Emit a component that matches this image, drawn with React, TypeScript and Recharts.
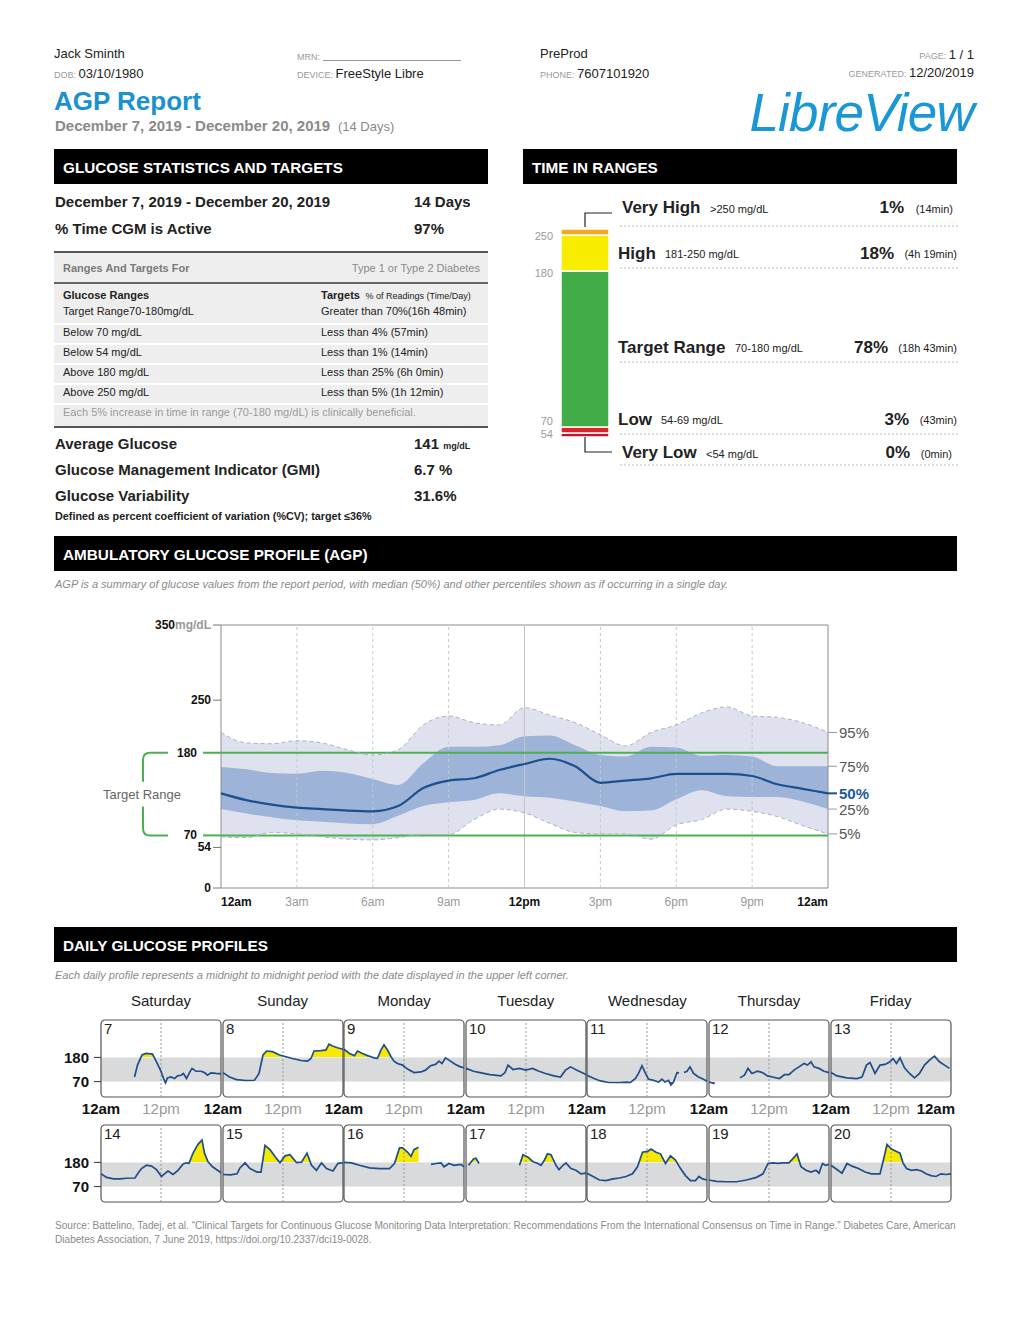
import React from "react";
import {
  ComposedChart,
  BarChart,
  Bar,
  Area,
  Line,
  XAxis,
  YAxis,
  ReferenceLine,
  ReferenceArea,
  LabelList,
} from "recharts";

const FONT = '"Liberation Sans", Arial, Helvetica, sans-serif';

// ---- time in ranges ----
const tirKeys = ["veryLow", "low", "target", "high", "veryHigh"];
const tirPercent = [0, 3, 78, 18, 1];
const tirColors = ["#c4142a", "#d8232a", "#41ad49", "#f8ec00", "#f4a81d"];
const tirTopLabel = ["54", "70", "180", "250", ""];
const tirLabelDy = [1, -6, 2, 1, 0];
const tirMinSize = [-4, 0, 0, 0, 6];

// ---- AGP percentiles, hourly ----
const agpHours = [0, 1, 2, 3, 4, 5, 6, 7, 8, 9, 10, 11, 12, 13, 14, 15, 16, 17, 18, 19, 20, 21, 22, 23, 24];
const p95 = [207, 193, 192, 196, 193, 184, 177, 184, 217, 229, 220, 217, 240, 230, 220, 204, 189, 207, 217, 233, 241, 229, 227, 220, 207];
const p75 = [161, 158, 153, 152, 156, 153, 145, 137, 166, 188, 188, 190, 202, 203, 190, 177, 175, 188, 187, 176, 177, 175, 162, 162, 162];
const p50 = [126, 117, 111, 107, 105, 103, 102, 109, 133, 143, 146, 157, 165, 172, 162, 140, 143, 146, 152, 152, 152, 149, 138, 132, 126];
const p25 = [105, 99, 94, 90, 88, 86, 85, 96, 109, 114, 117, 126, 122, 120, 115, 109, 102, 103, 118, 130, 122, 121, 121, 115, 105];
const p5 = [68, 67, 74, 72, 68, 65, 64, 67, 71, 71, 91, 105, 100, 86, 74, 72, 72, 65, 84, 91, 105, 102, 95, 83, 72];
const agpTicks = [0, 3, 6, 9, 12, 15, 18, 21, 24];
const agpTickLabels = ["12am", "3am", "6am", "9am", "12pm", "3pm", "6pm", "9pm", "12am"];
const agpYTicks = [0, 54, 70, 180, 250, 350];

// ---- daily profiles: [hour, mg/dL] ----
type Pt = [number, number | null];
const d07: Pt[] = [[6.7, 91], [7.3, 145], [8.2, 191], [9, 198], [10.3, 195], [11.1, 160], [12, 117], [12.5, 84], [12.9, 64], [13.3, 87], [14, 91], [14.7, 84], [15.3, 96], [16, 99], [16.5, 107], [17.1, 84], [17.7, 111], [18.2, 130], [19, 117], [20, 117], [20.7, 111], [21.3, 99], [22, 110], [23, 107], [24, 105]];
const d08: Pt[] = [[0, 111], [1.3, 91], [2.7, 79], [4.6, 75], [6.3, 76], [7.2, 107], [8, 191], [8.75, 209], [9.9, 206], [11.3, 191], [12.6, 183], [13.9, 175], [15.6, 166], [16.9, 163], [17.6, 175], [18.2, 209], [19.6, 211], [20.6, 214], [21.2, 240], [21.9, 232], [22.9, 224], [24, 217]];
const d09: Pt[] = [[0, 217], [1.1, 198], [2.1, 188], [2.7, 209], [3.7, 198], [4.7, 188], [5.4, 183], [6, 178], [6.7, 176], [7.4, 214], [8, 237], [8.7, 214], [9.4, 183], [10, 163], [10.7, 152], [11.7, 145], [12.7, 127], [14, 111], [15.4, 114], [16.3, 122], [17.3, 142], [18.3, 148], [19, 163], [19.6, 152], [20.3, 178], [21.3, 163], [22.3, 148], [23.3, 137], [24, 133]];
const d10: Pt[] = [[0, 130], [1.5, 117], [2.8, 111], [4.8, 102], [7, 96], [7.8, 111], [8.4, 145], [9.4, 125], [10.7, 130], [12, 122], [13.3, 130], [14.6, 117], [15.9, 107], [17.6, 96], [18.9, 91], [19.9, 122], [20.9, 137], [22.2, 122], [24, 102]];
const d11: Pt[] = [[0, 99], [1.4, 84], [2.7, 73], [4.4, 66], [6.4, 66], [8, 68], [8.7, 66], [9.7, 84], [10.3, 107], [11, 142], [11.7, 107], [12.3, 81], [13.3, 76], [14.3, 68], [15, 81], [15.6, 68], [16.3, 76], [16.8, 55], [17.3, 68], [18, 111], [18.4, 110], [18.7, null], [19.4, 111], [20, 117], [20.6, 137], [21.3, 107], [22.3, 91], [23.3, 81], [24, 72]];
const d12: Pt[] = [[0, 68], [1.1, 61], [1.3, null], [6.2, 87], [7.1, 99], [7.8, 130], [8.6, 107], [9.7, 117], [10.7, 111], [11.7, 96], [12.7, 91], [14.1, 84], [15.1, 102], [16, 102], [17, 122], [18, 137], [19, 152], [19.7, 145], [20.4, 160], [21, 137], [22, 130], [23, 117], [24, 111]];
const d13: Pt[] = [[0, 111], [1.2, 96], [3.2, 87], [5.2, 84], [6.2, 91], [7.1, 145], [7.8, 157], [8.8, 107], [9.8, 145], [10.8, 148], [11.8, 160], [12.4, 175], [13.1, 152], [13.8, 178], [14.7, 133], [15.7, 107], [16.7, 87], [17.7, 107], [18.7, 145], [19.7, 168], [20.7, 186], [21.7, 160], [22.7, 145], [23.7, 130]];
const d14: Pt[] = [[0, 128], [1.1, 112], [2.5, 105], [3.8, 105], [5.1, 108], [6.8, 109], [7.4, 131], [8.1, 152], [9.1, 167], [10.1, 163], [11.1, 147], [12.1, 116], [12.7, 128], [13.4, 141], [14.4, 125], [15.4, 144], [16.4, 172], [17, 178], [17.6, 176], [18.4, 222], [19.4, 262], [20.2, 282], [20.7, 222], [21.4, 183], [22.3, 160], [23.3, 144], [24, 133]];
const d15: Pt[] = [[0, 125], [1.5, 123], [2.8, 128], [3.4, 155], [4.4, 178], [5.4, 152], [6.8, 136], [7.6, 136], [8.4, 257], [9.4, 238], [10.4, 207], [11.4, 178], [12.4, 210], [13.4, 215], [14.7, 179], [15.7, 181], [16.8, 222], [17.7, 167], [18.7, 144], [19.7, 178], [20.7, 152], [22, 141], [23, 176], [24, 178]];
const d16: Pt[] = [[0, 180], [1.5, 178], [3.1, 167], [5.1, 155], [7.1, 152], [9.1, 152], [10.1, 175], [11.1, 246], [11.7, 246], [12.7, 227], [13.4, 207], [14, 238], [14.9, 249], [15.2, null], [17.4, 171], [18.4, 175], [19.4, 178], [20, 160], [21, 175], [22, 167], [23.4, 171], [24, 160]];
const d17: Pt[] = [[0.5, 167], [0.9, 178], [1.5, 196], [2, 199], [2.6, 175], [2.8, null], [10.7, 167], [11.4, 215], [12.4, 204], [13.4, 183], [14.4, 175], [15, 167], [15.7, 191], [16.3, 219], [17, 215], [18, 167], [18.6, 147], [19.4, 167], [20, 178], [21, 152], [22, 144], [23, 128], [24, 131]];
const d18: Pt[] = [[0, 131], [1.2, 116], [2.5, 100], [3.8, 97], [5.2, 105], [6.5, 109], [7.8, 116], [9.1, 128], [10.1, 160], [11.1, 226], [12.1, 230], [12.8, 241], [13.8, 226], [14.7, 219], [15.7, 175], [16.7, 210], [17.7, 191], [18.7, 152], [19.7, 120], [20.7, 97], [21.7, 97], [22.4, 116], [23.1, 105], [24, 100]];
const d19: Pt[] = [[0, 100], [1.5, 94], [3.5, 92], [5.5, 92], [7.5, 100], [9.5, 112], [10.8, 128], [11.8, 175], [12.8, 178], [13.8, 176], [14.7, 178], [16, 178], [17.1, 205], [17.6, 218], [18.4, 160], [19.4, 144], [20.4, 136], [21.4, 144], [22, 131], [22.7, 175], [23.3, 167], [24, 171]];
const d20: Pt[] = [[0, 167], [0.9, 152], [2.2, 131], [3.2, 175], [4.2, 163], [5.5, 152], [6.8, 136], [8.1, 128], [9.8, 128], [10.4, 183], [11.2, 262], [12.1, 241], [13.1, 230], [13.8, 222], [14.4, 178], [15.1, 152], [16.1, 144], [17.1, 147], [18.1, 141], [19, 128], [20, 120], [21, 116], [22, 128], [23, 125], [24, 128]];
const dailyProfiles = [d07, d08, d09, d10, d11, d12, d13, d14, d15, d16, d17, d18, d19, d20];
const dailyDates = [7, 8, 9, 10, 11, 12, 13, 14, 15, 16, 17, 18, 19, 20];
const weekdays = ["Saturday", "Sunday", "Monday", "Tuesday", "Wednesday", "Thursday", "Friday"];

// ---- statistics table text ----
const rangeNames = ["Below 70 mg/dL", "Below 54 mg/dL", "Above 180 mg/dL", "Above 250 mg/dL"];
const rangeTargets = ["Less than 4% (57min)", "Less than 1% (14min)", "Less than 25% (6h 0min)", "Less than 5% (1h 12min)"];

// layout
const DAY_X0 = 101;
const DAY_STEP = 121.6;
const DAY_W = 120;
const DAY_H = 77;
const DAY_ROW_Y = [1020, 1125];
const DAY_MAX = 350;
const BIG = 15;

type TP = {
  x: number;
  y: number;
  s?: number;
  w?: number;
  c?: string;
  a?: "left" | "right" | "center";
  i?: boolean;
  children: React.ReactNode;
};
const T = ({ x, y, s = 13, w = 400, c = "#222", a = "left", i, children }: TP) => {
  const style: React.CSSProperties = {
    position: "absolute",
    top: y - s * 0.6,
    fontSize: s,
    lineHeight: `${s * 1.2}px`,
    fontWeight: w,
    color: c,
    whiteSpace: "nowrap",
    fontStyle: i ? "italic" : "normal",
  };
  if (a === "right") style.right = 1024 - x;
  else if (a === "center") {
    style.left = x;
    style.transform = "translateX(-50%)";
  } else style.left = x;
  return <div style={style}>{children}</div>;
};

const Small = ({ children }: { children: React.ReactNode }) => (
  <span style={{ fontSize: 9, color: "#999", textTransform: "uppercase" }}>{children}</span>
);

const SectionBar = ({ x, y, w, label }: { x: number; y: number; w: number; label: string }) => (
  <div
    style={{
      position: "absolute",
      left: x,
      top: y,
      width: w,
      height: 35,
      background: "#000",
      color: "#fff",
      fontWeight: 700,
      fontSize: 15.3,
      lineHeight: "37px",
      paddingLeft: 9,
      boxSizing: "border-box",
    }}
  >
    {label}
  </div>
);

const pick = (p: any, k: string) => (p[k] !== undefined ? p[k] : p.viewBox ? p.viewBox[k] : 0);

// ---------- Time in ranges bar ----------
const TirChart = () => {
  const row: any = { name: "tir" };
  tirKeys.forEach((k, i) => (row[k] = tirPercent[i]));
  return (
    <div style={{ position: "absolute", left: 520, top: 226 }}>
      <BarChart width={130} height={215} data={[row]} margin={{ top: 7, right: 0, bottom: 8, left: 0 }}>
        <XAxis dataKey="name" hide />
        <YAxis hide domain={[0, 100]} />
        {tirKeys.map((k, i) => (
          <Bar
            key={k}
            dataKey={k}
            stackId="a"
            barSize={48}
            fill={tirColors[i]}
            stroke="#fff"
            strokeWidth={1.5}
            minPointSize={tirMinSize[i]}
            isAnimationActive={false}
          >
            {tirTopLabel[i] && (
              <LabelList
                dataKey={k}
                content={(p: any) => {
                  const y = pick(p, "y");
                  const h = pick(p, "height");
                  const top = Math.min(y, y + h);
                  return (
                    <text
                      x={pick(p, "x") - 8}
                      y={top + tirLabelDy[i]}
                      textAnchor="end"
                      dominantBaseline="central"
                      fontSize={11}
                      fill="#9a9a9a"
                    >
                      {tirTopLabel[i]}
                    </text>
                  );
                }}
              />
            )}
          </Bar>
        ))}
      </BarChart>
    </div>
  );
};

// ---------- AGP ----------
const AX = 131; // plot left inside the AGP chart
const GREEN = "#4caf50";

const AgpYTick = (props: any) => {
  const { y, payload } = props;
  const v = payload.value;
  if (v === 180 || v === 70) {
    const top = v === 180;
    const s = top ? 1 : -1;
    return (
      <g>
        <text x={AX - 24} y={y} textAnchor="end" dominantBaseline="central" fontSize={12} fontWeight={700} fill="#111">
          {v}
        </text>
        <line x1={AX - 18} x2={AX} y1={y} y2={y} stroke={GREEN} strokeWidth={2} />
        <path
          d={`M ${AX - 53} ${y} L ${AX - 71} ${y} Q ${AX - 78} ${y} ${AX - 78} ${y + 7 * s} L ${AX - 78} ${y + 29 * s}`}
          fill="none"
          stroke={GREEN}
          strokeWidth={2}
        />
        {top && (
          <text x={AX - 79} y={y + 42} textAnchor="middle" dominantBaseline="central" fontSize={13} fill="#666">
            Target Range
          </text>
        )}
      </g>
    );
  }
  return (
    <g>
      <text x={AX - 10} y={y} textAnchor="end" dominantBaseline="central" fontSize={12} fontWeight={700} fill="#111">
        {v}
        {v === 350 && <tspan fill="#999">mg/dL</tspan>}
      </text>
      <line x1={AX - 8} x2={AX} y1={y} y2={y} stroke="#777" strokeWidth={1} />
    </g>
  );
};

const AgpXTick = (props: any) => {
  const { x, y, payload } = props;
  const i = agpTicks.indexOf(payload.value);
  const major = payload.value % 12 === 0;
  const anchor = i === 0 ? "start" : i === agpTicks.length - 1 ? "end" : "middle";
  return (
    <text
      x={x}
      y={y}
      dy="0.8em"
      textAnchor={anchor}
      fontSize={12}
      fontWeight={major ? 700 : 400}
      fill={major ? "#111" : "#999"}
    >
      {agpTickLabels[i]}
    </text>
  );
};

const pctLabel = (text: string, strong: boolean) => (p: any) => {
  if (p.index !== agpHours.length - 1) return null;
  const x = pick(p, "x");
  const y = pick(p, "y");
  return (
    <g>
      <line x1={x} x2={x + 9} y1={y} y2={y} stroke={strong ? "#1c4f8c" : "#999"} strokeWidth={strong ? 2 : 1} />
      <text
        x={x + 11}
        y={y}
        dominantBaseline="central"
        fontSize={15}
        fontWeight={strong ? 700 : 400}
        fill={strong ? "#1d5a9c" : "#555"}
      >
        {text}
      </text>
    </g>
  );
};

const AgpChart = () => {
  const data = agpHours.map((h, i) => ({ h, p5: p5[i], p25: p25[i], p50: p50[i], p75: p75[i], p95: p95[i] }));
  return (
    <div style={{ position: "absolute", left: 90, top: 610 }}>
      <ComposedChart width={800} height={310} data={data} margin={{ top: 15, right: 62, bottom: 0, left: 0 }}>
        <XAxis
          dataKey="h"
          type="number"
          domain={[0, 24]}
          ticks={agpTicks}
          interval={0}
          axisLine={false}
          tickLine={false}
          height={32}
          tick={AgpXTick}
        />
        <YAxis
          type="number"
          domain={[0, 350]}
          ticks={agpYTicks}
          interval={0}
          axisLine={false}
          tickLine={false}
          width={AX}
          tick={AgpYTick}
        />
        <Area
          type="monotone"
          dataKey={(d: any) => [d.p5, d.p95]}
          fill="#dfe2ee"
          fillOpacity={1}
          stroke="none"
          isAnimationActive={false}
        />
        <Area
          type="monotone"
          dataKey={(d: any) => [d.p25, d.p75]}
          fill="#9db3d8"
          fillOpacity={1}
          stroke="none"
          isAnimationActive={false}
        />
        {agpTicks.slice(1, -1).map((t) => (
          <ReferenceLine
            key={t}
            x={t}
            stroke={t === 12 ? "#c4c4c4" : "#c8c8c8"}
            strokeDasharray={t === 12 ? undefined : "3 3"}
          />
        ))}
        <ReferenceLine y={180} stroke={GREEN} strokeWidth={2} />
        <ReferenceLine y={70} stroke={GREEN} strokeWidth={2} />
        <Line type="monotone" dataKey="p95" stroke="#aab0c6" strokeDasharray="4 3" strokeWidth={1} dot={false} isAnimationActive={false}>
          <LabelList dataKey="p95" content={pctLabel("95%", false)} />
        </Line>
        <Line type="monotone" dataKey="p5" stroke="#aab0c6" strokeDasharray="4 3" strokeWidth={1} dot={false} isAnimationActive={false}>
          <LabelList dataKey="p5" content={pctLabel("5%", false)} />
        </Line>
        <Line type="monotone" dataKey="p75" stroke="none" dot={false} isAnimationActive={false}>
          <LabelList dataKey="p75" content={pctLabel("75%", false)} />
        </Line>
        <Line type="monotone" dataKey="p25" stroke="none" dot={false} isAnimationActive={false}>
          <LabelList dataKey="p25" content={pctLabel("25%", false)} />
        </Line>
        <Line type="monotone" dataKey="p50" stroke="#1c4f8c" strokeWidth={2.2} dot={false} isAnimationActive={false}>
          <LabelList dataKey="p50" content={pctLabel("50%", true)} />
        </Line>
        <ReferenceArea x1={0} x2={24} y1={0} y2={350} fill="none" stroke="#8c8c8c" strokeWidth={1} />
      </ComposedChart>
    </div>
  );
};

// ---------- Daily profiles ----------
const hiStop = (DAY_MAX - 180) / DAY_MAX;
const loStop = (DAY_MAX - 70) / DAY_MAX;

const DayChart = ({ pts, date, idx }: { pts: Pt[]; date: number; idx: number }) => {
  const row = Math.floor(idx / 7);
  const col = idx % 7;
  const data = pts.map(([h, g]) => ({ h, g }));
  const yw = col === 0 ? 52 : 0;
  const xh = row === 0 ? 26 : 0;
  const id = `day${date}`;
  const xTicks = col === 6 ? [0, 12, 24] : [0, 12];
  return (
    <div style={{ position: "absolute", left: DAY_X0 + col * DAY_STEP - 1 - yw, top: DAY_ROW_Y[row] - 1 }}>
      <ComposedChart
        width={DAY_W + 2 + yw}
        height={DAY_H + 2 + xh}
        data={data}
        margin={{ top: 1, right: 1, bottom: 1, left: 1 }}
      >
        <defs>
          <linearGradient id={`${id}y`} gradientUnits="userSpaceOnUse" x1={0} y1={1} x2={0} y2={1 + DAY_H}>
            <stop offset={0} stopColor="#f6e800" />
            <stop offset={hiStop} stopColor="#f6e800" />
            <stop offset={hiStop} stopColor="#f6e800" stopOpacity={0} />
            <stop offset={1} stopColor="#f6e800" stopOpacity={0} />
          </linearGradient>
          <linearGradient id={`${id}r`} gradientUnits="userSpaceOnUse" x1={0} y1={1} x2={0} y2={1 + DAY_H}>
            <stop offset={0} stopColor="#d42a2a" stopOpacity={0} />
            <stop offset={loStop} stopColor="#d42a2a" stopOpacity={0} />
            <stop offset={loStop} stopColor="#d42a2a" />
            <stop offset={1} stopColor="#d42a2a" />
          </linearGradient>
        </defs>
        <XAxis
          dataKey="h"
          type="number"
          domain={[0, 24]}
          hide={row !== 0}
          ticks={xTicks}
          interval={0}
          axisLine={false}
          tickLine={false}
          height={xh}
          tick={(p: any) => {
            const v = p.payload.value;
            const major = v !== 12;
            return (
              <text
                x={v === 24 ? p.x + 4 : p.x}
                y={p.y}
                dy="0.6em"
                textAnchor={v === 24 ? "end" : "middle"}
                fontSize={15}
                fontWeight={major ? 700 : 400}
                fill={major ? "#111" : "#999"}
              >
                {major ? "12am" : "12pm"}
              </text>
            );
          }}
        />
        <YAxis
          type="number"
          domain={[0, DAY_MAX]}
          hide={col !== 0}
          ticks={[70, 180]}
          interval={0}
          width={yw}
          axisLine={false}
          tickLine={{ stroke: "#333" }}
          tickSize={7}
          tick={(p: any) => (
            <text
              x={p.x - 3}
              y={p.y}
              textAnchor="end"
              dominantBaseline="central"
              fontSize={15}
              fontWeight={700}
              fill="#111"
            >
              {p.payload.value}
            </text>
          )}
        />
        <ReferenceArea y1={70} y2={180} fill="#d9dadb" fillOpacity={1} stroke="none" />
        <ReferenceLine x={12} stroke="#999" strokeDasharray="2 2" />
        <Area dataKey="g" baseValue={180} fill={`url(#${id}y)`} fillOpacity={1} stroke="none" isAnimationActive={false} />
        <Area dataKey="g" baseValue={70} fill={`url(#${id}r)`} fillOpacity={1} stroke="none" isAnimationActive={false} />
        <Line dataKey="g" stroke="#1f4e89" strokeWidth={1.7} dot={false} isAnimationActive={false} />
        <ReferenceArea
          x1={0}
          x2={24}
          y1={0}
          y2={DAY_MAX}
          shape={(p: any) => (
            <g>
              <rect x={p.x} y={p.y} width={p.width} height={p.height} rx={4} fill="none" stroke="#555" strokeWidth={1.2} />
              <text x={p.x + 3} y={p.y + 14} fontSize={15} fill="#222">
                {date}
              </text>
            </g>
          )}
        />
      </ComposedChart>
    </div>
  );
};

// ---------- page ----------
const App = () => (
  <div
    style={{
      position: "absolute",
      left: 0,
      top: 0,
      width: 1024,
      height: 1325,
      background: "#fff",
      fontFamily: FONT,
      color: "#222",
      overflow: "hidden",
    }}
  >
    <style>{`.recharts-surface{overflow:visible}`}</style>

    {/* header */}
    <T x={54} y={54}>Jack Sminth</T>
    <T x={54} y={74}>
      <Small>DOB: </Small>03/10/1980
    </T>
    <T x={297} y={56}>
      <Small>MRN:</Small>
    </T>
    <div style={{ position: "absolute", left: 323, top: 60, width: 138, borderTop: "1px solid #999" }} />
    <T x={297} y={74}>
      <Small>DEVICE: </Small>FreeStyle Libre
    </T>
    <T x={540} y={54}>PreProd</T>
    <T x={540} y={74}>
      <Small>PHONE: </Small>7607101920
    </T>
    <T x={974} y={55} a="right">
      <Small>PAGE: </Small>1 / 1
    </T>
    <T x={974} y={73} a="right">
      <Small>GENERATED: </Small>12/20/2019
    </T>
    <T x={54} y={102} s={26} w={700} c="#1a92d0">
      AGP Report
    </T>
    <T x={55} y={126} s={BIG} w={700} c="#8a8a8a">
      December 7, 2019 - December 20, 2019{" "}
      <span style={{ fontSize: 13, fontWeight: 400 }}>&nbsp;(14 Days)</span>
    </T>
    <div
      style={{
        position: "absolute",
        right: 50,
        top: 86,
        fontFamily: FONT,
        fontStyle: "italic",
        fontSize: 53,
        lineHeight: "53px",
        color: "#1a98d5",
        letterSpacing: -0.8,
        whiteSpace: "nowrap",
      }}
    >
      LibreView
    </div>

    <SectionBar x={54} y={149} w={434} label="GLUCOSE STATISTICS AND TARGETS" />
    <SectionBar x={523} y={149} w={434} label="TIME IN RANGES" />

    {/* statistics */}
    <T x={55} y={202} s={BIG} w={700}>December 7, 2019 - December 20, 2019</T>
    <T x={414} y={202} s={BIG} w={700}>14 Days</T>
    <T x={55} y={229} s={BIG} w={700}>% Time CGM is Active</T>
    <T x={414} y={229} s={BIG} w={700}>97%</T>

    <div
      style={{
        position: "absolute",
        left: 54,
        top: 251,
        width: 434,
        height: 173,
        background: "#eeeeee",
        borderTop: "2px solid #555",
        borderBottom: "2px solid #555",
      }}
    />
    <div style={{ position: "absolute", left: 54, top: 282, width: 434, borderTop: "2px solid #666" }} />
    {[323, 343, 363, 383, 403].map((y) => (
      <div key={y} style={{ position: "absolute", left: 54, top: y, width: 434, borderTop: "2px solid #fff" }} />
    ))}
    <T x={63} y={269} s={11} w={700} c="#7a7a7a">Ranges And Targets For</T>
    <T x={480} y={269} s={11} c="#8a8a8a" a="right">Type 1 or Type 2 Diabetes</T>
    <T x={63} y={296} s={11} w={700}>Glucose Ranges</T>
    <T x={321} y={296} s={11} w={700}>
      Targets <span style={{ fontSize: 9, fontWeight: 400 }}>&nbsp;% of Readings (Time/Day)</span>
    </T>
    <T x={63} y={312} s={11}>Target Range70-180mg/dL</T>
    <T x={321} y={312} s={11}>Greater than 70%(16h 48min)</T>
    {rangeNames.map((n, i) => (
      <React.Fragment key={n}>
        <T x={63} y={333 + i * 20} s={11}>{n}</T>
        <T x={321} y={333 + i * 20} s={11}>{rangeTargets[i]}</T>
      </React.Fragment>
    ))}
    <T x={63} y={413} s={11} c="#9a9a9a">Each 5% increase in time in range (70-180 mg/dL) is clinically beneficial.</T>

    <T x={55} y={444} s={BIG} w={700}>Average Glucose</T>
    <T x={414} y={444} s={BIG} w={700}>
      141 <span style={{ fontSize: 9 }}>mg/dL</span>
    </T>
    <T x={55} y={470} s={BIG} w={700}>Glucose Management Indicator (GMI)</T>
    <T x={414} y={470} s={BIG} w={700}>6.7 %</T>
    <T x={55} y={496} s={BIG} w={700}>Glucose Variability</T>
    <T x={414} y={496} s={BIG} w={700}>31.6%</T>
    <T x={55} y={516} s={10.8} w={700}>Defined as percent coefficient of variation (%CV); target ≤36%</T>

    {/* time in ranges */}
    <TirChart />
    <svg style={{ position: "absolute", left: 0, top: 0 }} width={1024} height={500}>
      <path d="M585 227 L585 213 L612 213" fill="none" stroke="#222" strokeWidth={1.2} />
      <path d="M585 437 L585 452 L612 452" fill="none" stroke="#222" strokeWidth={1.2} />
      {[226, 268, 362, 434, 465].map((y) => (
        <line key={y} x1={620} x2={958} y1={y} y2={y} stroke="#bbb" strokeWidth={1} strokeDasharray="2 2" />
      ))}
    </svg>
    <T x={622} y={208} s={17} w={700}>Very High</T>
    <T x={710} y={210} s={11}>&gt;250 mg/dL</T>
    <T x={904} y={208} s={17} w={700} a="right">1%</T>
    <T x={953} y={210} s={11} a="right">(14min)</T>
    <T x={618} y={254} s={17} w={700}>High</T>
    <T x={665} y={255} s={11}>181-250 mg/dL</T>
    <T x={894} y={254} s={17} w={700} a="right">18%</T>
    <T x={957} y={255} s={11} a="right">(4h 19min)</T>
    <T x={618} y={348} s={17} w={700}>Target Range</T>
    <T x={735} y={349} s={11}>70-180 mg/dL</T>
    <T x={888} y={348} s={17} w={700} a="right">78%</T>
    <T x={957} y={349} s={11} a="right">(18h 43min)</T>
    <T x={618} y={420} s={17} w={700}>Low</T>
    <T x={661} y={421} s={11}>54-69 mg/dL</T>
    <T x={909} y={420} s={17} w={700} a="right">3%</T>
    <T x={957} y={421} s={11} a="right">(43min)</T>
    <T x={622} y={453} s={17} w={700}>Very Low</T>
    <T x={706} y={455} s={11}>&lt;54 mg/dL</T>
    <T x={910} y={453} s={17} w={700} a="right">0%</T>
    <T x={952} y={455} s={11} a="right">(0min)</T>

    {/* AGP */}
    <SectionBar x={54} y={536} w={903} label="AMBULATORY GLUCOSE PROFILE (AGP)" />
    <T x={55} y={585} s={11} c="#8a8a8a" i>
      AGP is a summary of glucose values from the report period, with median (50%) and other percentiles shown as if occurring in a single day.
    </T>
    <AgpChart />

    {/* daily */}
    <SectionBar x={54} y={927} w={903} label="DAILY GLUCOSE PROFILES" />
    <T x={55} y={976} s={11} c="#8a8a8a" i>
      Each daily profile represents a midnight to midnight period with the date displayed in the upper left corner.
    </T>
    {weekdays.map((d, i) => (
      <T key={d} x={DAY_X0 + i * DAY_STEP + DAY_W / 2} y={1001} s={15} a="center">
        {d}
      </T>
    ))}
    {dailyProfiles.map((pts, i) => (
      <DayChart key={i} pts={pts} date={dailyDates[i]} idx={i} />
    ))}

    <T x={55} y={1226} s={10.1} c="#8a8a8a">
      Source: Battelino, Tadej, et al. “Clinical Targets for Continuous Glucose Monitoring Data Interpretation: Recommendations From the International Consensus on Time in Range.” Diabetes Care, American
    </T>
    <T x={55} y={1240} s={10.1} c="#8a8a8a">
      Diabetes Association, 7 June 2019, https://doi.org/10.2337/dci19-0028.
    </T>
  </div>
);

export default App;
